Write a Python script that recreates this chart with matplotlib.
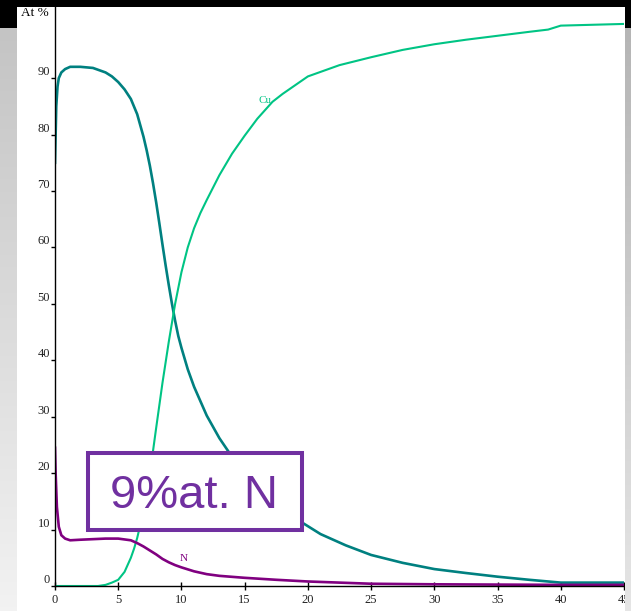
import numpy as np
import matplotlib
matplotlib.use("Agg")
import matplotlib.pyplot as plt
from matplotlib.patches import Rectangle

# Depth profile: sputter time vs atomic concentration
x_main = [0, 0.05, 0.1, 0.2, 0.3, 0.5, 0.8, 1.2, 2, 3, 4, 4.5, 5, 5.5, 6, 6.5, 7,
          7.25, 7.5, 7.75, 8, 8.25, 8.5, 8.75, 9, 9.25, 9.5, 9.75, 10, 10.5, 11,
          12, 13, 14, 15, 16, 17, 18, 19.5, 21, 23, 25, 27.5, 30, 32.5, 35, 37.5,
          39, 40, 42, 45]
y_main = [75, 80, 85, 88.5, 90, 91, 91.6, 92, 92, 91.8, 91, 90.3, 89.3, 88, 86.3,
          83.6, 79.6, 77.2, 74.5, 71.4, 68, 64.3, 60.5, 56.8, 53.3, 50, 47, 44.3,
          42.2, 38.4, 35.3, 30.2, 26.2, 22.9, 20.2, 17.9, 15.9, 13.9, 11.3, 9.2,
          7.2, 5.5, 4.1, 3.0, 2.3, 1.65, 1.1, 0.8, 0.6, 0.6, 0.6]

x_cu = [0, 3.4, 4, 4.5, 5, 5.5, 6, 6.25, 6.5, 6.75, 7, 7.25, 7.5, 7.75, 8, 8.5, 9,
        9.5, 10, 10.5, 11, 11.5, 12, 13, 14, 15, 16, 17.2, 18, 20, 22.5, 25, 27.5,
        30, 32.5, 35, 37.5, 39, 40, 45]
y_cu = [0, 0, 0.2, 0.6, 1.1, 2.5, 5, 6.6, 8.5, 10.9, 13.5, 16.6, 20, 23.9, 28, 36,
        43.3, 50, 55.6, 60, 63.4, 66.1, 68.4, 72.8, 76.6, 79.8, 82.8, 85.8, 87.2,
        90.3, 92.3, 93.7, 95, 96, 96.8, 97.5, 98.2, 98.6, 99.3, 99.6]

x_n = [0, 0.05, 0.15, 0.3, 0.5, 0.8, 1.2, 2, 3, 4, 5, 6, 6.5, 7, 7.5, 8, 8.5, 9, 9.5,
       10, 11, 12, 13, 15, 17.5, 20, 22.5, 25, 30, 35, 40, 45]
y_n = [24.5, 20, 14, 10.5, 9, 8.4, 8.1, 8.2, 8.3, 8.4, 8.4, 8.1, 7.6, 7.0, 6.3, 5.6,
       4.8, 4.2, 3.7, 3.3, 2.6, 2.1, 1.8, 1.45, 1.1, 0.8, 0.6, 0.4, 0.3, 0.25, 0.2, 0.2]

x_ticks = [0, 5, 10, 15, 20, 25, 30, 35, 40, 45]
y_ticks = [0, 10, 20, 30, 40, 50, 60, 70, 80, 90]

C_MAIN = "#008080"
C_CU = "#00c484"
C_N = "#800080"
C_BOX = "#7030a0"

W, H = 631, 611
fig = plt.figure(figsize=(W / 100, H / 100), dpi=100)
fig.patch.set_facecolor("white")

# Slide-style backdrop: black header band, grey side gradients, white panel
bg = np.ones((H, W, 3))
rows = np.linspace(0, 1, H)[:, None]
bg[:, :17] = (0.76 + 0.19 * rows)[:, :, None] * np.ones((1, 17, 3))
bg[:, 625:] = (0.70 + 0.20 * rows)[:, :, None] * np.ones((1, W - 625, 3))
bg[:28, :] = 0.0
bg[7:, 17:625] = 1.0
fig.figimage(bg, 0, 0, origin="upper", zorder=-10)
fig.figimage(bg[:, 625:].copy(), 625, 0, origin="upper", zorder=10)

ax = fig.add_axes([55 / W, (H - 586) / H, (624 - 55) / W, (586 - 7) / H])
ax.set_facecolor("none")

ax.plot(x_main, y_main, color=C_MAIN, lw=1.9, solid_joinstyle="round")
ax.plot(x_cu, y_cu, color=C_CU, lw=1.5, solid_joinstyle="round")
ax.plot(x_n, y_n, color=C_N, lw=1.9, solid_joinstyle="round")

ax.set_xlim(0, 45)
ax.set_ylim(0, 102.6)

for s in ("top", "right"):
    ax.spines[s].set_visible(False)
for s in ("left", "bottom"):
    ax.spines[s].set_linewidth(1.0)
    ax.spines[s].set_color("black")

serif = "Liberation Serif"
ax.set_xticks(x_ticks)
ax.set_xticklabels([str(v) for v in x_ticks], fontfamily=serif, fontsize=9,
                   color="#222222")
ax.set_yticks(y_ticks)
ax.set_yticklabels([str(v) for v in y_ticks], fontfamily=serif, fontsize=9,
                   va="bottom", color="#222222")
ax.tick_params(axis="x", direction="inout", length=6, width=1, pad=2.5)
ax.tick_params(axis="y", direction="out", length=3, width=1, pad=0.5)

fig.text(21 / W, (H - 16) / H, "At %", fontfamily=serif, fontsize=9.5,
         va="baseline", ha="left", color="black")

ax.text(16.6, 86.1, "Cu", color=C_CU, fontfamily=serif, fontsize=8,
        ha="center", va="center")
ax.text(10.2, 4.8, "N", color=C_N, fontfamily=serif, fontsize=8,
        ha="center", va="center")

# Highlighted annotation box
box = Rectangle((0.058, 0.0967), 0.434 - 0.058, 0.2297 - 0.0967,
                transform=ax.transAxes, facecolor="white", edgecolor=C_BOX,
                lw=2.9, zorder=5)
ax.add_patch(box)
ax.text(0.244, 0.1347, "9%at. N", transform=ax.transAxes, color=C_BOX,
        fontfamily="Liberation Sans", fontsize=34, ha="center", va="baseline",
        zorder=6)

fig.savefig("out.png", dpi=100)
